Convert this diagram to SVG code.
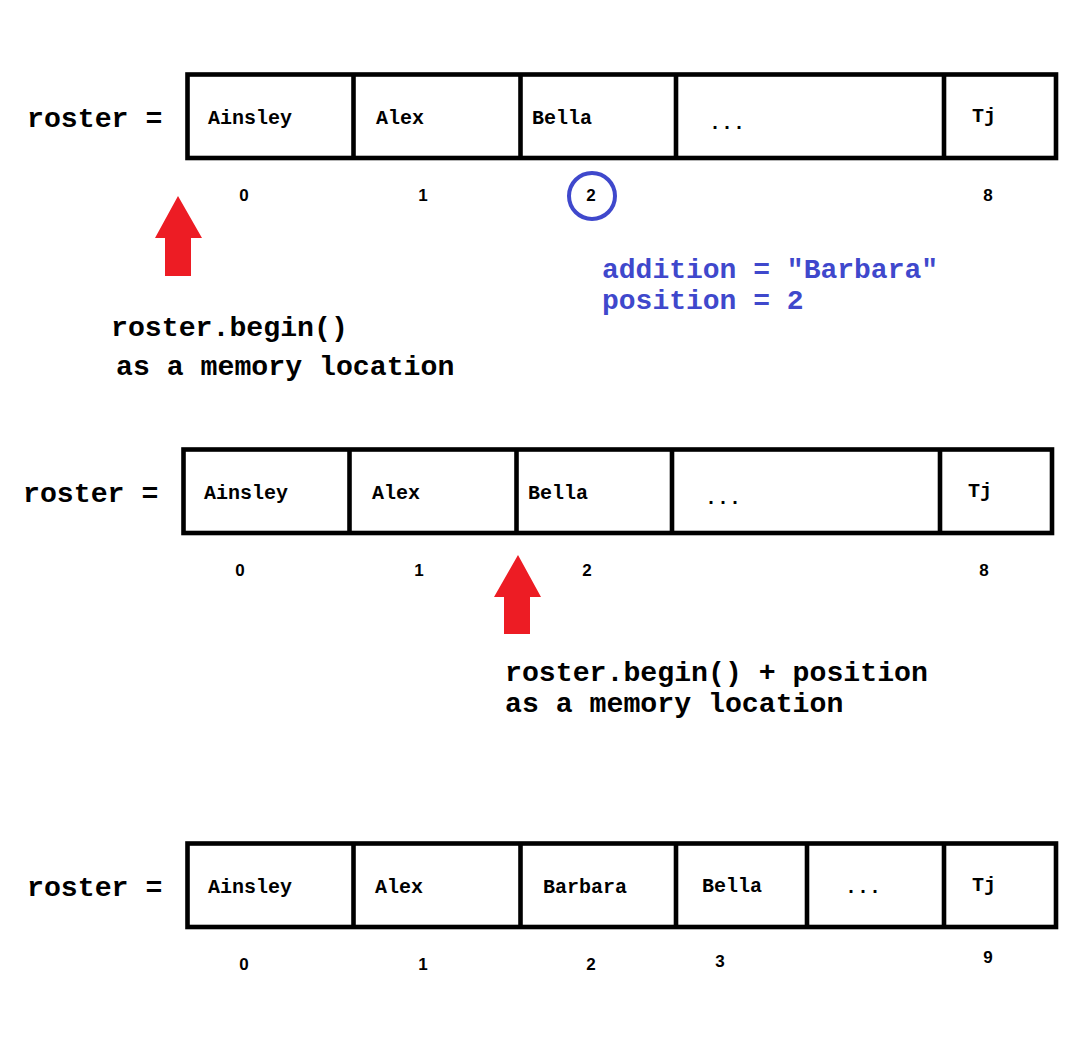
<svg xmlns="http://www.w3.org/2000/svg" width="1077" height="1038" viewBox="0 0 1077 1038">
<style>
.cell{fill:#fff;stroke:#000;stroke-width:4.6}
.div{stroke:#000;stroke-width:4.6}
.big{font-family:"Liberation Mono",monospace;font-weight:bold;font-size:28.2px;fill:#000}
.nm{font-family:"Liberation Mono",monospace;font-weight:bold;font-size:20px;fill:#000}
.idx{font-family:"Liberation Sans",Arial,sans-serif;font-weight:bold;font-size:17px;fill:#000;text-anchor:middle}
.blue{font-family:"Liberation Mono",monospace;font-weight:bold;font-size:28px;fill:#3f48cc}
.arrow{fill:#ed1c24}
</style>
<rect width="1077" height="1038" fill="#fff"/>

<g id="row1">
<text class="big" x="27" y="127">roster =</text>
<rect class="cell" x="187.5" y="74.5" width="868.5" height="83.5"/>
<line class="div" x1="353.5" y1="74.5" x2="353.5" y2="158"/>
<line class="div" x1="520.5" y1="74.5" x2="520.5" y2="158"/>
<line class="div" x1="676" y1="74.5" x2="676" y2="158"/>
<line class="div" x1="944" y1="74.5" x2="944" y2="158"/>
<text class="nm" x="208" y="124">Ainsley</text>
<text class="nm" x="376" y="124">Alex</text>
<text class="nm" x="532" y="124">Bella</text>
<text class="nm" x="709" y="129">...</text>
<text class="nm" x="972" y="122">Tj</text>
<text class="idx" x="244" y="201">0</text>
<text class="idx" x="423" y="201">1</text>
<text class="idx" x="591" y="201">2</text>
<text class="idx" x="988" y="201">8</text>
</g>

<g id="highlight">
<circle cx="592" cy="196" r="23" fill="none" stroke="#3f48cc" stroke-width="4"/>
<text class="blue" x="602" y="278">addition = "Barbara"</text>
<text class="blue" x="602" y="309">position = 2</text>
</g>

<g id="arrow1">
<polygon class="arrow" points="178,196 202,238 191,238 191,276 165,276 165,238 155,238"/>
<text class="big" x="111" y="336">roster.begin()</text>
<text class="big" x="116" y="375">as a memory location</text>
</g>

<g id="row2">
<text class="big" x="23" y="502">roster =</text>
<rect class="cell" x="183.5" y="449.5" width="868.5" height="83.5"/>
<line class="div" x1="349.5" y1="449.5" x2="349.5" y2="533"/>
<line class="div" x1="516.5" y1="449.5" x2="516.5" y2="533"/>
<line class="div" x1="672" y1="449.5" x2="672" y2="533"/>
<line class="div" x1="940" y1="449.5" x2="940" y2="533"/>
<text class="nm" x="204" y="499">Ainsley</text>
<text class="nm" x="372" y="499">Alex</text>
<text class="nm" x="528" y="499">Bella</text>
<text class="nm" x="705" y="504">...</text>
<text class="nm" x="968" y="497">Tj</text>
<text class="idx" x="240" y="576">0</text>
<text class="idx" x="419" y="576">1</text>
<text class="idx" x="587" y="576">2</text>
<text class="idx" x="984" y="576">8</text>
</g>

<g id="arrow2">
<polygon class="arrow" points="518,555 541,597 530,597 530,634 504,634 504,597 494,597"/>
<text class="big" x="505" y="681">roster.begin() + position</text>
<text class="big" x="505" y="712">as a memory location</text>
</g>

<g id="row3">
<text class="big" x="27" y="896">roster =</text>
<rect class="cell" x="187.5" y="843.5" width="868.5" height="83.5"/>
<line class="div" x1="353.5" y1="843.5" x2="353.5" y2="927"/>
<line class="div" x1="520.5" y1="843.5" x2="520.5" y2="927"/>
<line class="div" x1="676" y1="843.5" x2="676" y2="927"/>
<line class="div" x1="807" y1="843.5" x2="807" y2="927"/>
<line class="div" x1="944" y1="843.5" x2="944" y2="927"/>
<text class="nm" x="208" y="893">Ainsley</text>
<text class="nm" x="375" y="893">Alex</text>
<text class="nm" x="543" y="893">Barbara</text>
<text class="nm" x="702" y="892">Bella</text>
<text class="nm" x="845" y="893">...</text>
<text class="nm" x="972" y="891">Tj</text>
<text class="idx" x="244" y="970">0</text>
<text class="idx" x="423" y="970">1</text>
<text class="idx" x="591" y="970">2</text>
<text class="idx" x="720" y="967">3</text>
<text class="idx" x="988" y="963">9</text>
</g>
</svg>
